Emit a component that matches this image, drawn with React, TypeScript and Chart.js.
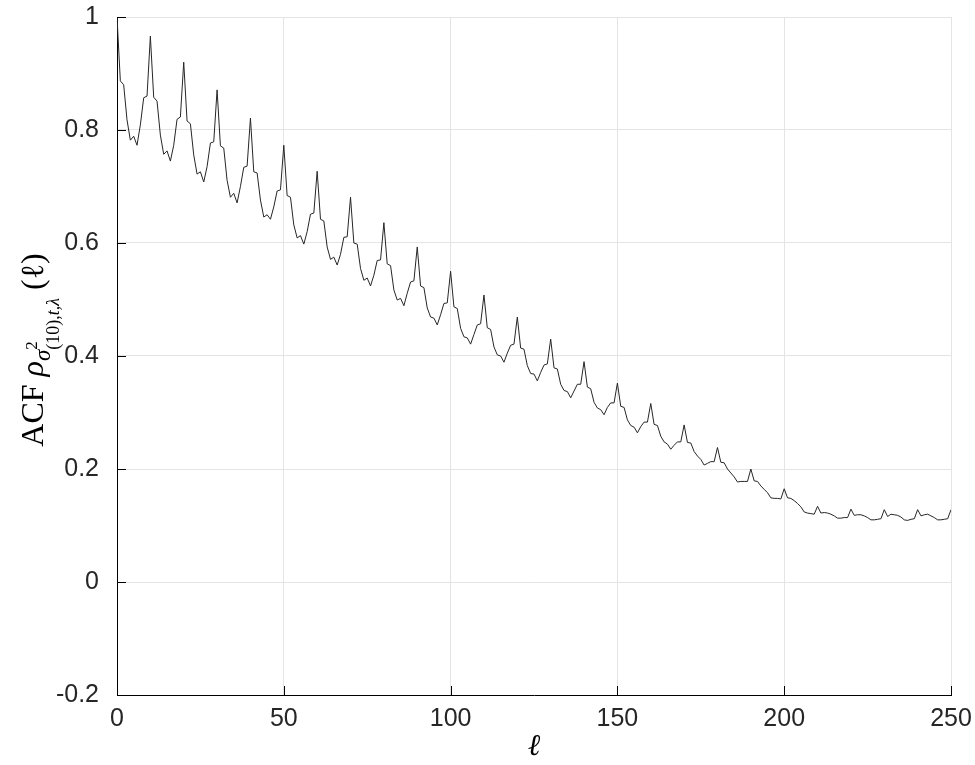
import React, { useEffect, useRef } from "react";
import { Chart, registerables } from "chart.js";

Chart.register(...registerables);

// Sample autocorrelation of the squared series, lags 0..250 in blocks of ten
const acf0to49 = [
  1.0, 0.887, 0.88, 0.818, 0.782, 0.789, 0.773, 0.809, 0.857, 0.86,
  0.966, 0.858, 0.851, 0.791, 0.757, 0.763, 0.745, 0.773, 0.819, 0.823,
  0.92, 0.816, 0.811, 0.756, 0.722, 0.726, 0.708, 0.735, 0.777, 0.779,
  0.871, 0.772, 0.768, 0.711, 0.681, 0.688, 0.671, 0.7, 0.734, 0.736,
  0.821, 0.726, 0.724, 0.676, 0.646, 0.65, 0.642, 0.664, 0.692, 0.694,
];
const acf50to99 = [
  0.773, 0.684, 0.681, 0.632, 0.609, 0.613, 0.598, 0.62, 0.651, 0.653,
  0.727, 0.642, 0.639, 0.593, 0.571, 0.575, 0.561, 0.58, 0.61, 0.611,
  0.681, 0.6, 0.598, 0.555, 0.534, 0.538, 0.524, 0.543, 0.569, 0.57,
  0.636, 0.563, 0.56, 0.517, 0.499, 0.502, 0.489, 0.511, 0.531, 0.533,
  0.593, 0.524, 0.521, 0.485, 0.469, 0.467, 0.455, 0.473, 0.493, 0.494,
];
const acf100to149 = [
  0.55, 0.487, 0.484, 0.449, 0.434, 0.432, 0.421, 0.438, 0.455, 0.457,
  0.508, 0.45, 0.447, 0.416, 0.402, 0.4, 0.389, 0.405, 0.419, 0.421,
  0.469, 0.414, 0.412, 0.383, 0.369, 0.368, 0.356, 0.371, 0.384, 0.386,
  0.43, 0.379, 0.377, 0.35, 0.339, 0.337, 0.326, 0.338, 0.35, 0.35,
  0.39, 0.345, 0.342, 0.318, 0.308, 0.305, 0.296, 0.309, 0.317, 0.317,
];
const acf150to199 = [
  0.352, 0.311, 0.309, 0.287, 0.277, 0.274, 0.264, 0.275, 0.283, 0.283,
  0.316, 0.279, 0.277, 0.258, 0.248, 0.244, 0.235, 0.242, 0.248, 0.248,
  0.278, 0.247, 0.246, 0.231, 0.223, 0.217, 0.207, 0.21, 0.213, 0.213,
  0.238, 0.212, 0.211, 0.2, 0.193, 0.186, 0.177, 0.178, 0.178, 0.178,
  0.2, 0.179, 0.178, 0.17, 0.164, 0.158, 0.149, 0.148, 0.148, 0.147,
];
const acf200to250 = [
  0.165, 0.149, 0.148, 0.144, 0.139, 0.133, 0.124, 0.122, 0.121, 0.12,
  0.134, 0.122, 0.123, 0.122, 0.12, 0.117, 0.113, 0.113, 0.114, 0.114,
  0.129, 0.118, 0.119, 0.119, 0.117, 0.114, 0.11, 0.11, 0.111, 0.112,
  0.128, 0.116, 0.12, 0.119, 0.118, 0.115, 0.11, 0.109, 0.111, 0.112,
  0.128, 0.117, 0.119, 0.12, 0.117, 0.114, 0.11, 0.11, 0.111, 0.112,
  0.128,
];

const acfValues = [
  ...acf0to49,
  ...acf50to99,
  ...acf100to149,
  ...acf150to199,
  ...acf200to250,
];

const xTickValues = [0, 50, 100, 150, 200, 250];
const yTickValues = [-0.2, 0, 0.2, 0.4, 0.6, 0.8, 1];

const SANS = '"Liberation Sans", Arial, Helvetica, sans-serif';
const SERIF = '"Liberation Serif", "DejaVu Serif", serif';

// Short inward tick marks on the left and bottom axes
const innerTicks = {
  id: "innerTicks",
  afterDraw(chart: any) {
    const { ctx, chartArea, scales } = chart;
    ctx.save();
    ctx.strokeStyle = "#000";
    ctx.lineWidth = 1;
    ctx.beginPath();
    for (const v of yTickValues) {
      const y = Math.round(scales.y.getPixelForValue(v)) + 0.5;
      ctx.moveTo(chartArea.left, y);
      ctx.lineTo(chartArea.left + 9, y);
    }
    for (const v of xTickValues) {
      const x = Math.round(scales.x.getPixelForValue(v)) + 0.5;
      ctx.moveTo(x, chartArea.bottom);
      ctx.lineTo(x, chartArea.bottom - 9);
    }
    ctx.stroke();
    ctx.restore();
  },
};

// Axis titles with sub/superscripts
const axisTitles = {
  id: "axisTitles",
  afterDraw(chart: any) {
    const { ctx, chartArea } = chart;
    ctx.save();
    ctx.fillStyle = "#000";
    ctx.textBaseline = "alphabetic";

    // x title
    ctx.font = `italic 30px ${SERIF}`;
    ctx.textAlign = "center";
    ctx.fillText("ℓ", (chartArea.left + chartArea.right) / 2, 755);

    // y title, rotated
    ctx.textAlign = "left";
    type Piece = { t: string; f: string; dy: number; stackWith?: boolean };
    const big = 32;
    const pieces: Piece[] = [
      { t: "ACF", f: `${big}px ${SERIF}`, dy: 0 },
      { t: " ", f: `${big}px ${SERIF}`, dy: 0 },
      { t: "ρ", f: `italic ${big}px ${SERIF}`, dy: 0 },
      { t: "σ", f: `italic 23px ${SERIF}`, dy: 7 },
      { t: "2", f: `17px ${SERIF}`, dy: -6 },
      { t: "(10),", f: `18px ${SERIF}`, dy: 16, stackWith: true },
      { t: "t,λ", f: `italic 18px ${SERIF}`, dy: 16 },
      { t: " ", f: `${big}px ${SERIF}`, dy: 0 },
      { t: "(ℓ)", f: `${big}px ${SERIF}`, dy: 0 },
    ];
    const widths = pieces.map((p) => {
      ctx.font = p.f;
      return ctx.measureText(p.t).width;
    });
    let total = 0;
    const xs: number[] = [];
    let cursor = 0;
    let stackStart = 0;
    pieces.forEach((p, i) => {
      if (p.stackWith) cursor = stackStart;
      if (p.t === "2") stackStart = cursor;
      xs.push(cursor);
      cursor += widths[i];
      total = Math.max(total, cursor);
    });

    ctx.translate(43, 350);
    ctx.rotate(-Math.PI / 2);
    const start = -total / 2;
    pieces.forEach((p, i) => {
      ctx.font = p.f;
      ctx.fillText(p.t, start + xs[i], p.dy);
    });
    ctx.restore();
  },
};

function fmt(v: number): string {
  const r = Math.round(v * 10) / 10;
  return r === 0 ? "0" : String(r);
}

export default function App() {
  const canvasRef = useRef<HTMLCanvasElement | null>(null);

  useEffect(() => {
    const canvas = canvasRef.current;
    if (!canvas) return;
    const points = acfValues.map((v, lag) => ({ x: lag, y: v }));
    const chart = new Chart(canvas, {
      type: "line",
      data: {
        datasets: [
          {
            data: points,
            borderColor: "#262626",
            borderWidth: 1,
            pointRadius: 0,
            tension: 0,
            fill: false,
          },
        ],
      },
      options: {
        animation: false,
        responsive: false,
        maintainAspectRatio: false,
        devicePixelRatio: 1,
        layout: { padding: { top: 17, right: 24, left: 0, bottom: 0 } },
        plugins: {
          legend: { display: false },
          tooltip: { enabled: false },
          title: { display: false },
        },
        scales: {
          x: {
            type: "linear",
            min: 0,
            max: 250,
            afterFit: (s: any) => {
              s.height = 70;
              s.paddingLeft = 0;
              s.paddingRight = 0;
            },
            afterBuildTicks: (s: any) => {
              s.ticks = xTickValues.map((v) => ({ value: v }));
            },
            ticks: {
              font: { family: SANS, size: 25 },
              color: "#262626",
              padding: 9,
              maxRotation: 0,
              callback: (v: any) => String(v),
            },
            grid: { color: "#e4e4e4", lineWidth: 1, drawTicks: false },
            border: { display: true, color: "#000", width: 1 },
          },
          y: {
            type: "linear",
            min: -0.2,
            max: 1,
            afterFit: (s: any) => {
              s.width = 117;
              s.paddingTop = 0;
              s.paddingBottom = 0;
            },
            afterBuildTicks: (s: any) => {
              s.ticks = yTickValues.map((v) => ({ value: v }));
            },
            ticks: {
              font: { family: SANS, size: 25 },
              color: "#262626",
              padding: 18,
              callback: (v: any) => fmt(Number(v)),
            },
            grid: { color: "#e4e4e4", lineWidth: 1, drawTicks: false },
            border: { display: true, color: "#000", width: 1 },
          },
        },
      },
      plugins: [innerTicks, axisTitles],
    });
    return () => chart.destroy();
  }, []);

  return (
    <div
      style={{
        position: "fixed",
        left: 0,
        top: 0,
        width: 975,
        height: 765,
        background: "#fff",
      }}
    >
      <canvas ref={canvasRef} width={975} height={765} />
    </div>
  );
}
